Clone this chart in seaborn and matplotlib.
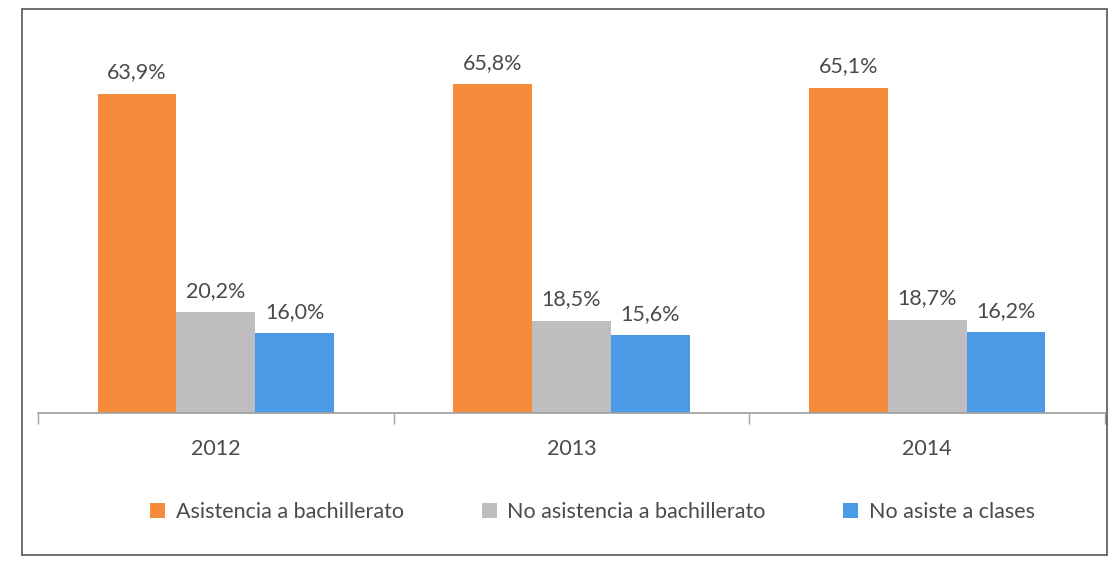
import pandas as pd
import matplotlib.pyplot as plt
import seaborn as sns
from matplotlib.patches import Rectangle, Patch

# data
years = ["2012", "2013", "2014"]
series = ["Asistencia a bachillerato", "No asistencia a bachillerato", "No asiste a clases"]
asistencia = [63.9, 65.8, 65.1]
no_asistencia = [20.2, 18.5, 18.7]
no_asiste = [16.0, 15.6, 16.2]
colors = ["#F68B3C", "#BEBEC0", "#4A9AE6"]

df = pd.DataFrame({
    "year": years * 3,
    "serie": [series[0]] * 3 + [series[1]] * 3 + [series[2]] * 3,
    "value": asistencia + no_asistencia + no_asiste,
})

sns.set_theme(style="white")
plt.rcParams['font.family'] = ['Lato', 'DejaVu Sans']

fig = plt.figure(figsize=(11.14, 5.64), dpi=100)
ax = fig.add_axes([38 / 1114, 151 / 564, 1067 / 1114, 375 / 564])

sns.barplot(data=df, x="year", y="value", hue="serie", palette=colors,
            width=0.665, ax=ax, legend=False, saturation=1, linewidth=0)

for c in ax.containers:
    ax.bar_label(c, labels=[f"{v:.1f}%".replace(".", ",") for v in c.datavalues],
                 padding=8, fontsize=15.5, color="#4A4A4A")

ax.set_xlim(-0.5, 2.5)
ax.set_ylim(0, 75)
ax.set_xlabel("")
ax.set_ylabel("")
ax.set_yticks([])
for s in ["top", "right", "left"]:
    ax.spines[s].set_visible(False)
ax.spines["bottom"].set_color("#A0A0A0")

ax.set_xticks([0, 1, 2])
ax.set_xticklabels(years, fontsize=15.5, color="#4A4A4A")
ax.tick_params(axis="x", which="major", length=0, pad=19)
ax.set_xticks([-0.5, 0.5, 1.5, 2.5], minor=True)
ax.tick_params(axis="x", which="minor", length=8, color="#A0A0A0", bottom=True)

handles = [Patch(facecolor=col, edgecolor="none") for col in colors]
fig.legend(handles, series, loc="center", bbox_to_anchor=(0.532, 1 - 512 / 564),
           ncol=3, frameon=False, fontsize=15.5, handlelength=0.7, handleheight=0.7,
           handletextpad=0.5, columnspacing=3.6, labelcolor="#4A4A4A")

fig.patches.append(Rectangle((22 / 1114, 9 / 564), 1085 / 1114, 546 / 564,
                             transform=fig.transFigure, fill=False,
                             edgecolor="#555555", linewidth=1.2))

plt.savefig("out.png", dpi=100)
